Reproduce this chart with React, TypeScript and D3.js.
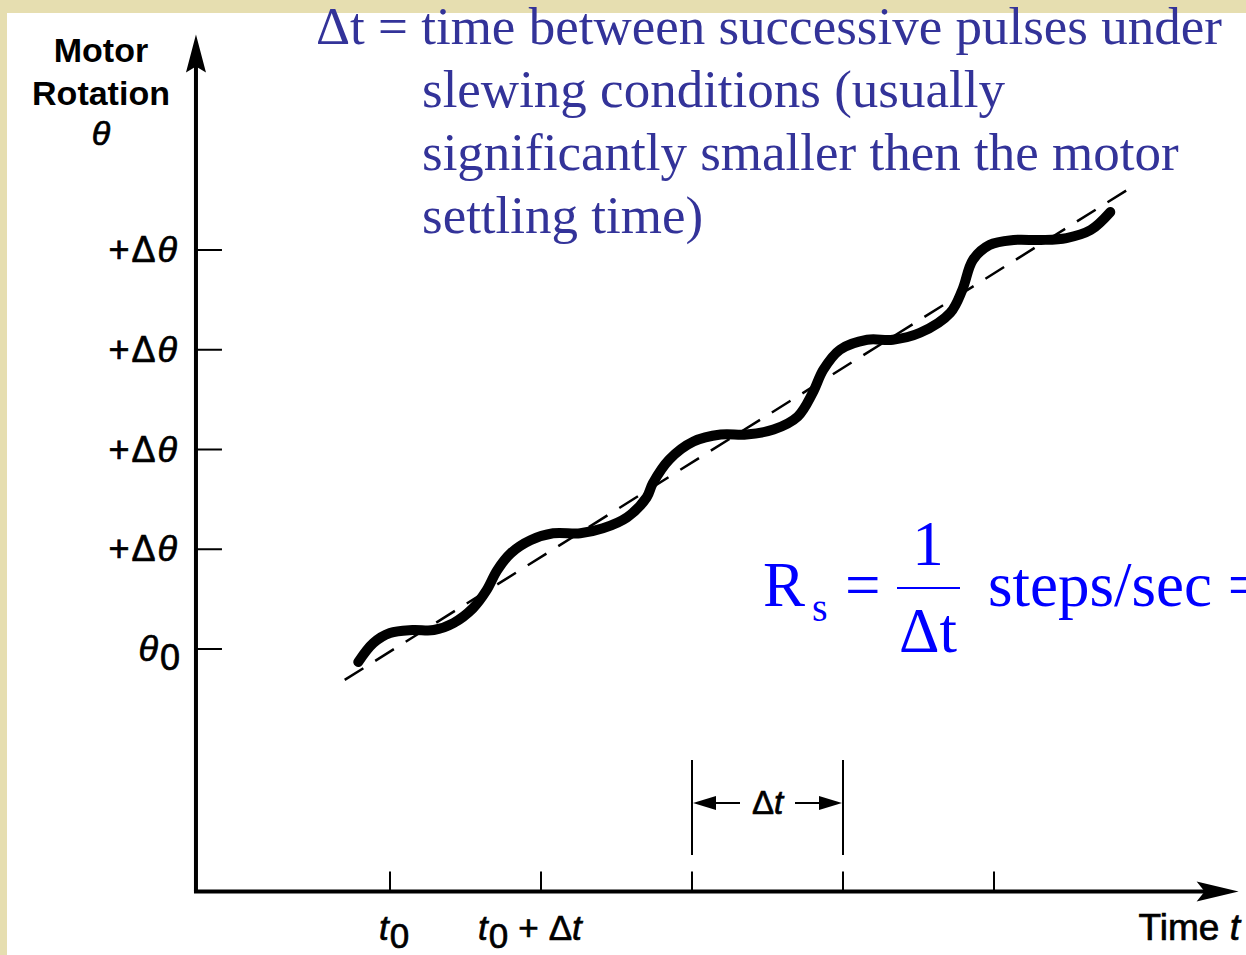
import React from "react";
import * as d3 from "d3";

// wavy step response (t in pulse periods, theta in steps)
const curveT = [-0.21, -0.11, 0.0, 0.15, 0.29, 0.42, 0.55, 0.64, 0.71, 0.8, 0.93, 1.08, 1.26, 1.41, 1.57, 1.7, 1.74, 1.85, 2.01, 2.19, 2.36, 2.54, 2.7, 2.8, 2.87, 2.98, 3.16, 3.33, 3.51, 3.71, 3.79, 3.86, 3.97, 4.13, 4.31, 4.48, 4.64, 4.77];
const curveTheta = [-0.13, 0.06, 0.16, 0.19, 0.19, 0.26, 0.41, 0.59, 0.79, 0.96, 1.09, 1.16, 1.16, 1.21, 1.32, 1.52, 1.66, 1.9, 2.08, 2.15, 2.15, 2.2, 2.33, 2.57, 2.8, 3.0, 3.1, 3.1, 3.17, 3.37, 3.6, 3.9, 4.05, 4.1, 4.1, 4.12, 4.2, 4.38];

// dashed average slope line
const guideT = [-0.3, 4.88];
const guideTheta = [-0.31, 4.6];

const timeTicks = [0, 1, 2, 3, 4];
const thetaTicks = [0, 1, 2, 3, 4];
const thetaTickLabels = ["θ0", "+Δθ", "+Δθ", "+Δθ", "+Δθ"];

const axisT = [-1.285, 5.62];
const axisTheta = [-2.43, 6.16];
const intervalT = [2, 3];

const textLines = [
  "Δt = time between successive pulses under",
  "slewing conditions (usually",
  "significantly smaller then the motor",
  "settling time)",
];

const W = 1246;
const H = 955;
const SANS = "'Liberation Sans', Arial, sans-serif";
const SERIF = "'Liberation Serif', 'Times New Roman', serif";

export default function App() {
  const x = d3.scaleLinear().domain([0, 4]).range([390, 994]);
  const y = d3.scaleLinear().domain([0, 4]).range([649, 250]);

  const line = d3
    .line<number>()
    .x((_, i) => x(curveT[i]))
    .y((_, i) => y(curveTheta[i]))
    .curve(d3.curveCatmullRom.alpha(0.5));

  const x0 = x(axisT[0]);
  const x1 = x(axisT[1]);
  const y0 = y(axisTheta[0]);
  const y1 = y(axisTheta[1]);

  const dimY = 803;
  const dl = x(intervalT[0]);
  const dr = x(intervalT[1]);

  const ink = { fill: "#000", stroke: "#000", strokeWidth: 0.7 };

  return (
    <svg width={W} height={H} style={{ position: "absolute", left: 0, top: 0 }}>
      <rect width={W} height={H} fill="#E6DEB0" />
      <rect x={7} y={13} width={W} height={H} fill="#ffffff" />

      {/* axes */}
      <line x1={x0} y1={y0} x2={x0} y2={y1 + 30} stroke="#000" strokeWidth={4} />
      <path d={`M${x0},${y1} L${x0 - 10},${y1 + 38} L${x0},${y1 + 32} L${x0 + 10},${y1 + 38} Z`} fill="#000" />
      <line x1={x0 - 2} y1={y0} x2={x1 - 30} y2={y0} stroke="#000" strokeWidth={4} />
      <path d={`M${x1},${y0} L${x1 - 42},${y0 - 10} L${x1 - 34},${y0} L${x1 - 42},${y0 + 10} Z`} fill="#000" />

      {/* theta ticks */}
      {thetaTicks.map((v, i) => (
        <g key={"yt" + i}>
          <line x1={x0} x2={x0 + 26} y1={y(v)} y2={y(v)} stroke="#000" strokeWidth={2} />
          {i === 0 ? (
            <text x={180} y={y(v) + 12} textAnchor="end" fontFamily={SANS} fontSize={36} {...ink}>
              <tspan fontStyle="italic">θ</tspan>
              <tspan dy={9} dx={2}>0</tspan>
            </text>
          ) : (
            <text x={179} y={y(v) + 12} textAnchor="end" fontFamily={SANS} fontSize={36} letterSpacing={2} {...ink}>
              {thetaTickLabels[i].slice(0, 2)}
              <tspan fontStyle="italic">{thetaTickLabels[i].slice(2)}</tspan>
            </text>
          )}
        </g>
      ))}

      {/* time ticks */}
      {timeTicks.map((v, i) => (
        <line key={"xt" + i} x1={x(v)} x2={x(v)} y1={y0} y2={y0 - 20} stroke="#000" strokeWidth={2} />
      ))}
      <text x={x(0) - 11} y={940} fontFamily={SANS} fontSize={35} {...ink}>
        <tspan fontStyle="italic">t</tspan>
        <tspan dy={8} dx={1}>0</tspan>
      </text>
      <text x={x(1) - 63} y={940} fontFamily={SANS} fontSize={35} {...ink}>
        <tspan fontStyle="italic">t</tspan>
        <tspan dy={8} dx={1}>0</tspan>
        <tspan dy={-8} dx={10}>+</tspan>
        <tspan dx={10}>Δ</tspan>
        <tspan fontStyle="italic">t</tspan>
      </text>

      {/* dimension for Δt */}
      <line x1={dl} x2={dl} y1={760} y2={855} stroke="#000" strokeWidth={2} />
      <line x1={dr} x2={dr} y1={760} y2={855} stroke="#000" strokeWidth={2} />
      <line x1={dl + 10} x2={dl + 48} y1={dimY} y2={dimY} stroke="#000" strokeWidth={2} />
      <path d={`M${dl + 1},${dimY} L${dl + 24},${dimY - 7} L${dl + 24},${dimY + 7} Z`} fill="#000" />
      <line x1={dr - 48} x2={dr - 10} y1={dimY} y2={dimY} stroke="#000" strokeWidth={2} />
      <path d={`M${dr - 1},${dimY} L${dr - 24},${dimY - 7} L${dr - 24},${dimY + 7} Z`} fill="#000" />
      <text x={(dl + dr) / 2} y={dimY + 11} textAnchor="middle" fontFamily={SANS} fontSize={33} {...ink}>
        Δ<tspan fontStyle="italic">t</tspan>
      </text>

      {/* response curves */}
      <line
        x1={x(guideT[0])}
        y1={y(guideTheta[0])}
        x2={x(guideT[1])}
        y2={y(guideTheta[1])}
        stroke="#000"
        strokeWidth={2.5}
        strokeDasharray="22 14"
      />
      <path d={line(curveT) ?? ""} fill="none" stroke="#000" strokeWidth={10} strokeLinecap="round" />

      {/* axis titles */}
      <g fontFamily={SANS} fontSize={34} fill="#000" textAnchor="middle">
        <text x={101} y={62} fontWeight="bold">Motor</text>
        <text x={101} y={105} fontWeight="bold">Rotation</text>
        <text x={101} y={145} fontStyle="italic" {...ink}>θ</text>
      </g>
      <text x={1240} y={940} textAnchor="end" fontFamily={SANS} fontSize={37} {...ink}>
        Time <tspan fontStyle="italic">t</tspan>
      </text>

      {/* annotation */}
      <g fontFamily={SERIF} fontSize={53} fill="#333399">
        {textLines.map((s, i) => (
          <text key={s} x={i === 0 ? 316 : 422} y={44 + i * 63}>{s}</text>
        ))}
      </g>

      <g fontFamily={SERIF} fill="#0000FF">
        <text x={763} y={606} fontSize={63}>R</text>
        <text x={812} y={621} fontSize={40}>s</text>
        <text x={845} y={606} fontSize={63}>=</text>
        <line x1={897} x2={960} y1={588} y2={588} stroke="#0000FF" strokeWidth={2} />
        <text x={928} y={565} fontSize={63} textAnchor="middle">1</text>
        <text x={928} y={652} fontSize={63} textAnchor="middle">Δt</text>
        <text x={988} y={606} fontSize={63}>steps/sec =</text>
      </g>
    </svg>
  );
}
